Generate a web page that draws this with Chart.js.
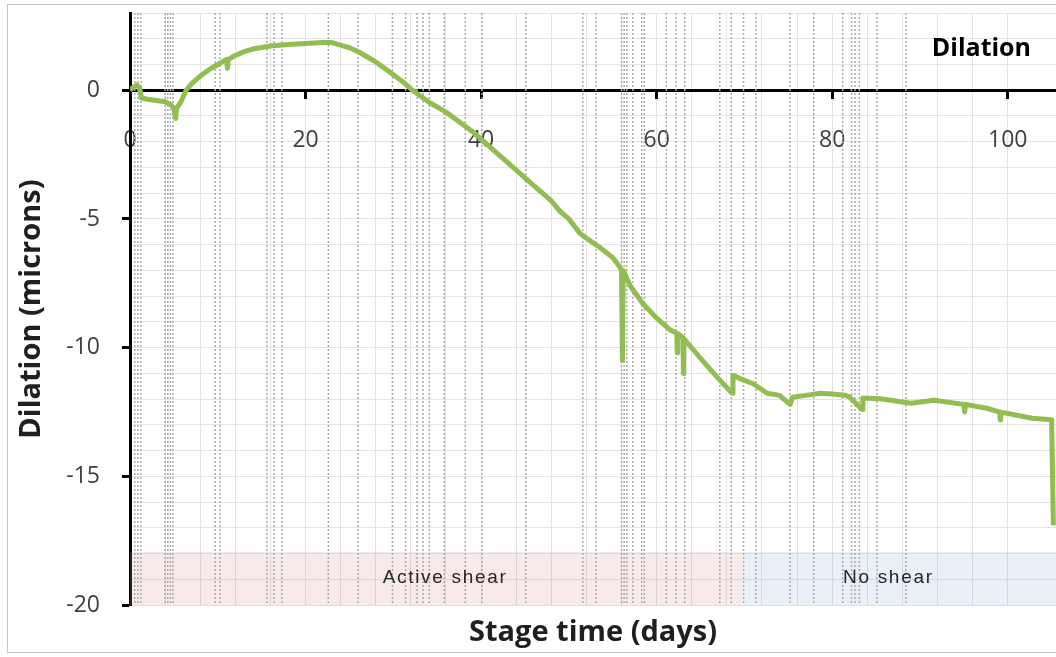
<!DOCTYPE html>
<html>
<head>
<meta charset="utf-8">
<script src="https://cdn.jsdelivr.net/npm/chart.js@4.4.1/dist/chart.umd.min.js"></script>
<style>
  body { margin: 0; background: #fff; }
  #wrap { position: relative; width: 1056px; height: 657px; overflow: hidden; }
  #frame { position: absolute; left: 7px; top: 4px; width: 1100px; height: 647px; border: 1px solid #c6c6c6; pointer-events: none; }
</style>
</head>
<body>
<div id="wrap">
  <canvas id="dilation-chart" width="1056" height="657"></canvas>
  <div id="frame"></div>
</div>
<script>
// dilation trace (days, microns)
let days = [0, 0.3, 0.8, 1.1, 1.3, 2, 3, 4, 4.6, 5, 5.2, 5.3, 5.8, 6.4, 7, 8, 9, 10, 11, 11.1, 11.2, 12, 13, 14, 16, 18, 20, 22, 23, 24, 25, 26, 27, 28, 29, 30, 31, 32, 33, 34, 35, 36, 37, 38, 39, 40, 41, 42, 43, 44, 45, 46, 47, 48, 49, 50, 51.25, 52, 53.5, 55, 55.8, 56, 56.1, 56.2, 57, 58.4, 60, 61.5, 62.3, 62.35, 62.4, 63, 63.05, 63.1, 64.9, 66, 67.2, 68.6, 68.7, 69.5, 71, 72.6, 74, 75.2, 75.5, 77, 78.6, 80, 81.5, 82, 83.4, 83.5, 85.5, 89, 91.6, 95, 95.1, 95.2, 97.6, 99.1, 99.15, 99.2, 102.8, 105, 105.2]
let dilation = [0, 0.1, 0.2, 0.1, -0.3, -0.35, -0.4, -0.45, -0.55, -0.7, -1.1, -0.7, -0.45, 0, 0.25, 0.55, 0.8, 1.0, 1.2, 0.85, 1.2, 1.35, 1.5, 1.6, 1.72, 1.78, 1.82, 1.85, 1.85, 1.75, 1.65, 1.5, 1.3, 1.1, 0.85, 0.6, 0.35, 0.05, -0.2, -0.45, -0.65, -0.85, -1.1, -1.35, -1.6, -1.9, -2.2, -2.5, -2.8, -3.1, -3.4, -3.7, -4.0, -4.3, -4.7, -5.0, -5.55, -5.75, -6.1, -6.5, -6.87, -7.0, -10.5, -7.0, -7.6, -8.27, -8.85, -9.3, -9.44, -10.2, -9.45, -9.6, -11.0, -9.65, -10.37, -10.8, -11.26, -11.77, -11.07, -11.2, -11.4, -11.77, -11.85, -12.2, -11.92, -11.85, -11.77, -11.8, -11.85, -11.92, -12.4, -11.95, -11.98, -12.16, -12.04, -12.2, -12.5, -12.2, -12.35, -12.5, -12.8, -12.5, -12.74, -12.8, -16.9]

// dotted event markers (days)
let events = [0.55, 0.9, 1.25, 4.0, 4.3, 4.6, 4.9, 9.7, 10.25, 15.6, 16.4, 17.3, 22.6, 26.0, 29.9, 31.4, 32.7, 33.4, 34.1, 35.8, 38.2, 40.1, 45.1, 51.6, 53.1, 56.0, 56.3, 56.6, 57.3, 58.3, 58.6, 61.1, 62.2, 63.2, 67.2, 68.5, 69.9, 71.3, 75.2, 77.9, 81.2, 82.2, 82.6, 83.1, 85.1, 88.4]

// shear phases
let phase_names = ['Active shear', 'No shear']
let phase_start = [0, 69.8]
let phase_end = [69.8, 105.5]
let phase_label_day = [35.9, 86.4]
let phase_label_y = -18.95
let phase_top = -17.93
let phase_colors = ['rgba(220, 150, 150, 0.2)', 'rgba(150, 180, 215, 0.2)']

let x_min = 0
let x_max = 105.5
let y_min = -20
let y_max = 3

const trace = days.map((d, i) => ({ x: d, y: dilation[i] }))

let event_points = []
events.forEach(d => {
  event_points.push({ x: d, y: y_max }, { x: d, y: y_min }, { x: d, y: null })
})

const phase_sets = phase_names.map((name, i) => ({
  label: name,
  data: [{ x: phase_start[i], y: phase_top }, { x: phase_end[i], y: phase_top }],
  showLine: true,
  fill: 'start',
  backgroundColor: phase_colors[i],
  borderWidth: 0,
  pointRadius: 0,
  order: 3
}))

// no extra room for tick labels, the plot runs to the edges
const noPad = scale => {
  scale.paddingTop = 0
  scale.paddingBottom = 0
  scale.paddingLeft = 0
  scale.paddingRight = 0
}

// text drawn inside the plot: title and phase names
const plotText = {
  id: 'plotText',
  afterDatasetsDraw(chart) {
    const { ctx, scales: { x, y } } = chart
    ctx.save()
    ctx.textAlign = 'center'
    ctx.textBaseline = 'middle'
    ctx.fillStyle = '#262626'
    ctx.font = '19px "Liberation Sans"'
    ctx.letterSpacing = '1.7px'
    phase_names.forEach((name, i) => {
      ctx.fillText(name, x.getPixelForValue(phase_label_day[i]), y.getPixelForValue(phase_label_y))
    })
    ctx.letterSpacing = '0px'
    ctx.fillStyle = '#000'
    ctx.font = 'bold 25px "Open Sans"'
    ctx.fillText('Dilation', x.getPixelForValue(97), y.getPixelForValue(1.6))
    ctx.restore()
  }
}

new Chart(document.getElementById('dilation-chart'), {
  type: 'scatter',
  data: {
    datasets: [
      {
        label: 'Dilation',
        data: trace,
        showLine: true,
        borderColor: '#92bd52',
        borderWidth: 5,
        borderJoinStyle: 'round',
        pointRadius: 0,
        tension: 0,
        order: 0
      },
      {
        label: 'events',
        data: event_points,
        showLine: true,
        spanGaps: false,
        borderColor: '#ababab',
        borderWidth: 1.5,
        borderDash: [2, 2],
        pointRadius: 0,
        order: 2
      },
      ...phase_sets
    ]
  },
  options: {
    responsive: false,
    animation: false,
    layout: { padding: { top: 13, right: 0, bottom: 3, left: 0 } },
    plugins: {
      legend: { display: false },
      tooltip: { enabled: false },
      title: {
        display: true,
        position: 'bottom',
        fullSize: false,
        text: 'Stage time (days)',
        color: '#1f1f1f',
        font: { family: 'Open Sans', size: 29, weight: 'bold' },
        padding: { top: 10, bottom: 4 }
      }
    },
    scales: {
      x: {
        type: 'linear',
        min: x_min,
        max: x_max,
        position: { y: 0 },
        afterFit: noPad,
        border: { color: '#000', width: 3 },
        grid: {
          color: '#e3e3e3',
          lineWidth: 1,
          tickLength: 7,
          tickWidth: 3,
          tickColor: c => c.tick && c.tick.value % 20 === 0 ? '#000' : 'rgba(0,0,0,0)'
        },
        ticks: {
          stepSize: 4,
          autoSkip: false,
          maxRotation: 0,
          padding: 29,
          color: '#404040',
          font: { family: 'Open Sans', size: 23 },
          callback: v => v % 20 === 0 ? v : ''
        }
      },
      y: {
        min: y_min,
        max: y_max,
        afterFit: scale => {
          noPad(scale)
          scale.width = 130
        },
        border: { color: '#000', width: 3 },
        grid: {
          color: '#e3e3e3',
          lineWidth: 1,
          tickLength: 8,
          tickWidth: 3,
          tickColor: c => c.tick && c.tick.value % 5 === 0 ? '#000' : 'rgba(0,0,0,0)'
        },
        ticks: {
          stepSize: 1,
          autoSkip: false,
          padding: 22,
          color: '#404040',
          font: { family: 'Open Sans', size: 23 },
          callback: v => v % 5 === 0 ? v : ''
        },
        title: {
          display: true,
          text: 'Dilation (microns)',
          color: '#1f1f1f',
          font: { family: 'Open Sans', size: 29, weight: 'bold' },
          padding: { top: 14, bottom: 0 }
        }
      }
    }
  },
  plugins: [plotText]
});
</script>
</body>
</html>
